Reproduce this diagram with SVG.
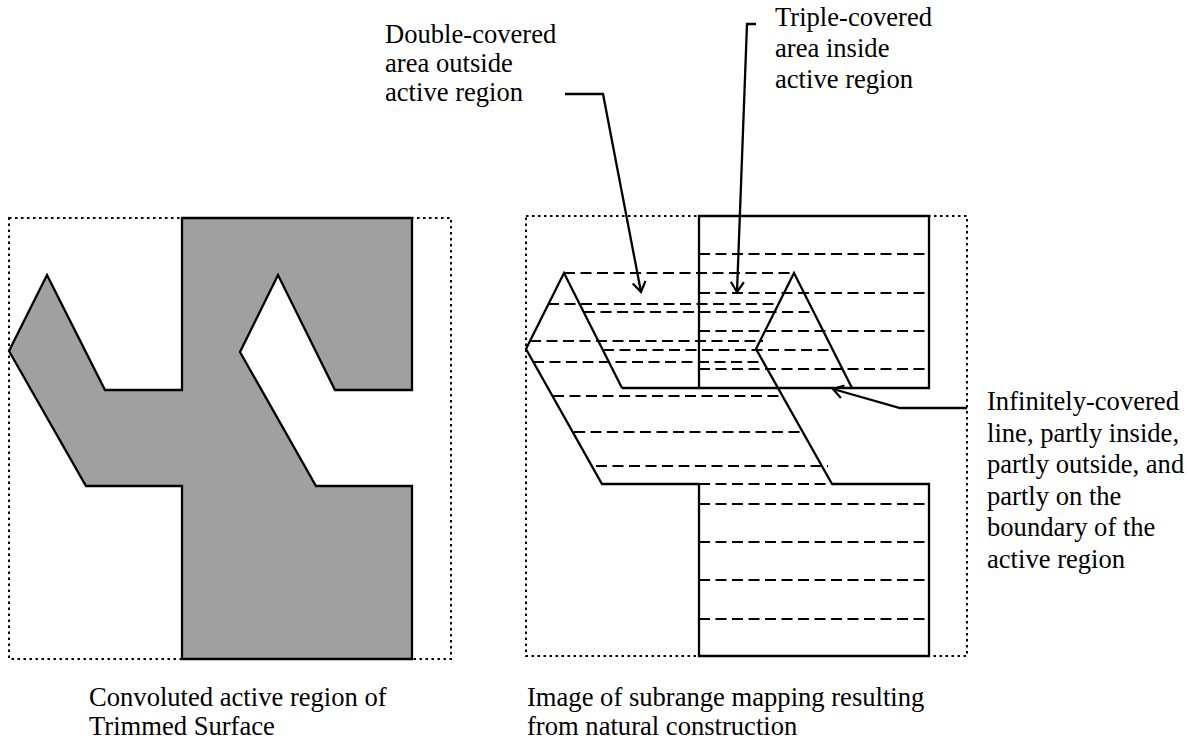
<svg xmlns="http://www.w3.org/2000/svg" width="1189" height="742" viewBox="0 0 1189 742">
<style>
.dot{fill:none;stroke:#000;stroke-width:2;stroke-dasharray:2.5 3.5}
.edge{fill:none;stroke:#000;stroke-width:2.3;stroke-linejoin:miter}
.hatch{fill:none;stroke:#000;stroke-width:2;stroke-dasharray:11 5.5}
.lead{fill:none;stroke:#000;stroke-width:2.3;marker-end:url(#v)}
text{font-family:"Liberation Serif","Times New Roman",serif;font-size:26.6px;fill:#000}
</style>
<defs>
<marker id="v" viewBox="-12 -8 14 16" refX="0" refY="0" markerWidth="14" markerHeight="16" markerUnits="userSpaceOnUse" orient="auto">
<path d="M-10,-6.5 L0,0 L-10,6.5" fill="none" stroke="#000" stroke-width="2.2"/>
</marker>
</defs>
<rect width="1189" height="742" fill="#fff"/>
<g id="left-panel">
<rect class="dot" x="9" y="218" width="442" height="441"/>
<polygon class="edge" style="fill:#a0a0a0" points="182,218 412,218 412,390 335,390 278,275 240,352 316,486 412,486 412,659 182,659 182,486 86,486 9,351 47,275 105,390 182,390"/>
</g>
<g id="right-panel">
<rect class="dot" x="526" y="216" width="441" height="440"/>
<g id="hatching">
<path class="hatch" d="M699,254H929M699,293H929M699,331H929M699,369H929"/>
<path class="hatch" d="M564,273H794M548,304H778M584,312H814M530,341H763M603,350H833M533,362H763M553,396H783M574,432H804M596,466H828"/>
<path class="hatch" d="M699,484H832"/>
<path class="hatch" d="M699,504H929M699,542H929M699,580H929M699,619H929"/>
</g>
<g id="outline">
<path class="edge" d="M622,388H929V216H699V388"/>
<path class="edge" d="M622,388L564,273L526,349L602,484H699"/>
<path class="edge" d="M699,484V656H929V484H832"/>
<path class="edge" d="M852,388L794,273L756,349L832,484"/>
</g>
</g>
<g id="connectors">
<path class="lead" d="M565,94H603L641,292"/>
<path class="lead" d="M756,24H747L737,292"/>
<path class="lead" d="M967,408H900L833,389"/>
</g>
<g id="label-double">
<text x="385" y="43">Double-covered</text>
<text x="385" y="72">area outside</text>
<text x="385" y="101">active region</text>
</g>
<g id="label-triple">
<text x="775" y="26">Triple-covered</text>
<text x="775" y="57">area inside</text>
<text x="775" y="88">active region</text>
</g>
<g id="label-infinite">
<text x="987" y="410">Infinitely-covered</text>
<text x="987" y="441.6">line, partly inside,</text>
<text x="987" y="473.2">partly outside, and</text>
<text x="987" y="504.8">partly on the</text>
<text x="987" y="536.4">boundary of the</text>
<text x="987" y="568">active region</text>
</g>
<g id="caption-left">
<text x="89" y="706">Convoluted active region of</text>
<text x="89" y="735">Trimmed Surface</text>
</g>
<g id="caption-right">
<text x="527" y="706">Image of subrange mapping resulting</text>
<text x="527" y="735">from natural construction</text>
</g>
</svg>
